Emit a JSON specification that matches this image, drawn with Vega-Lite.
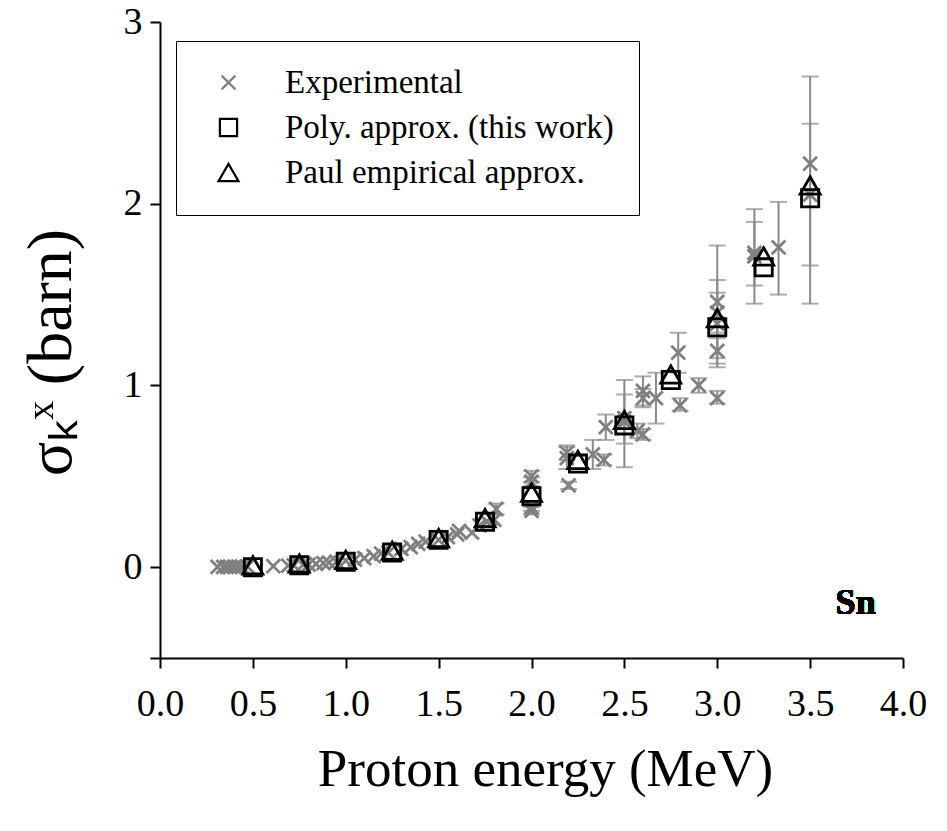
{
  "$schema": "https://vega.github.io/schema/vega-lite/v6.json",
  "width": 743,
  "height": 636,
  "autosize": "none",
  "padding": {"left": 160, "top": 22, "right": 44, "bottom": 173},
  "background": "white",
  "config": {
    "font": "Liberation Serif",
    "view": {"stroke": null},
    "axis": {
      "labelFont": "Liberation Serif",
      "titleFont": "Liberation Serif",
      "labelColor": "black",
      "titleColor": "black",
      "domainColor": "black",
      "tickColor": "black",
      "domainWidth": 2,
      "tickWidth": 2,
      "tickSize": 10,
      "grid": false,
      "labelFlush": false,
      "titleFontWeight": "normal"
    },
    "legend": {
      "labelFont": "Liberation Serif",
      "labelFontSize": 33,
      "labelColor": "black",
      "labelLimit": 600
    }
  },
  "data": {
    "values": [
      {"E": 0.31, "s": 0.001, "series": "Experimental"},
      {"E": 0.34, "s": 0.001, "series": "Experimental"},
      {"E": 0.36, "s": 0.002, "series": "Experimental"},
      {"E": 0.38, "s": 0.002, "series": "Experimental"},
      {"E": 0.40, "s": 0.002, "series": "Experimental"},
      {"E": 0.42, "s": 0.003, "series": "Experimental"},
      {"E": 0.44, "s": 0.003, "series": "Experimental"},
      {"E": 0.47, "s": 0.004, "series": "Experimental"},
      {"E": 0.61, "s": 0.005, "series": "Experimental"},
      {"E": 0.69, "s": 0.008, "series": "Experimental"},
      {"E": 0.72, "s": 0.010, "series": "Experimental"},
      {"E": 0.77, "s": 0.012, "series": "Experimental"},
      {"E": 0.80, "s": 0.014, "series": "Experimental"},
      {"E": 0.84, "s": 0.018, "series": "Experimental"},
      {"E": 0.88, "s": 0.022, "series": "Experimental"},
      {"E": 0.91, "s": 0.025, "series": "Experimental"},
      {"E": 0.95, "s": 0.030, "series": "Experimental"},
      {"E": 1.00, "s": 0.036, "series": "Experimental"},
      {"E": 1.05, "s": 0.042, "series": "Experimental"},
      {"E": 1.10, "s": 0.050, "series": "Experimental"},
      {"E": 1.15, "s": 0.060, "series": "Experimental"},
      {"E": 1.19, "s": 0.075, "series": "Experimental"},
      {"E": 1.23, "s": 0.080, "series": "Experimental"},
      {"E": 1.30, "s": 0.100, "series": "Experimental"},
      {"E": 1.35, "s": 0.110, "series": "Experimental"},
      {"E": 1.39, "s": 0.128, "series": "Experimental"},
      {"E": 1.43, "s": 0.140, "series": "Experimental"},
      {"E": 1.50, "s": 0.150, "series": "Experimental"},
      {"E": 1.55, "s": 0.165, "series": "Experimental"},
      {"E": 1.60, "s": 0.180, "series": "Experimental"},
      {"E": 1.61, "s": 0.200, "series": "Experimental"},
      {"E": 1.68, "s": 0.190, "series": "Experimental"},
      {"E": 1.72, "s": 0.230, "series": "Experimental"},
      {"E": 1.76, "s": 0.250, "series": "Experimental"},
      {"E": 1.78, "s": 0.270, "lo": 0.245, "hi": 0.295, "series": "Experimental"},
      {"E": 1.81, "s": 0.320, "lo": 0.290, "hi": 0.350, "series": "Experimental"},
      {"E": 1.80, "s": 0.260, "series": "Experimental"},
      {"E": 2.00, "s": 0.500, "lo": 0.470, "hi": 0.530, "series": "Experimental"},
      {"E": 2.00, "s": 0.470, "lo": 0.445, "hi": 0.495, "series": "Experimental"},
      {"E": 2.00, "s": 0.310, "lo": 0.290, "hi": 0.330, "series": "Experimental"},
      {"E": 2.00, "s": 0.330, "lo": 0.310, "hi": 0.350, "series": "Experimental"},
      {"E": 2.19, "s": 0.600, "lo": 0.540, "hi": 0.660, "series": "Experimental"},
      {"E": 2.20, "s": 0.450, "lo": 0.430, "hi": 0.470, "series": "Experimental"},
      {"E": 2.19, "s": 0.630, "lo": 0.590, "hi": 0.670, "series": "Experimental"},
      {"E": 2.33, "s": 0.620, "lo": 0.540, "hi": 0.700, "series": "Experimental"},
      {"E": 2.39, "s": 0.590, "lo": 0.560, "hi": 0.620, "series": "Experimental"},
      {"E": 2.40, "s": 0.770, "lo": 0.700, "hi": 0.840, "series": "Experimental"},
      {"E": 2.50, "s": 0.800, "lo": 0.550, "hi": 1.030, "series": "Experimental"},
      {"E": 2.50, "s": 0.820, "lo": 0.680, "hi": 0.950, "series": "Experimental"},
      {"E": 2.57, "s": 0.750, "lo": 0.710, "hi": 0.790, "series": "Experimental"},
      {"E": 2.60, "s": 0.970, "lo": 0.890, "hi": 1.050, "series": "Experimental"},
      {"E": 2.60, "s": 0.930, "lo": 0.880, "hi": 0.980, "series": "Experimental"},
      {"E": 2.60, "s": 0.730, "lo": 0.700, "hi": 0.760, "series": "Experimental"},
      {"E": 2.67, "s": 0.930, "lo": 0.790, "hi": 1.070, "series": "Experimental"},
      {"E": 2.80, "s": 0.890, "lo": 0.860, "hi": 0.930, "series": "Experimental"},
      {"E": 2.79, "s": 1.180, "lo": 1.070, "hi": 1.290, "series": "Experimental"},
      {"E": 2.90, "s": 1.000, "lo": 0.960, "hi": 1.040, "series": "Experimental"},
      {"E": 3.00, "s": 1.460, "lo": 1.150, "hi": 1.770, "series": "Experimental"},
      {"E": 3.00, "s": 1.340, "lo": 1.100, "hi": 1.580, "series": "Experimental"},
      {"E": 3.00, "s": 1.400, "lo": 1.290, "hi": 1.510, "series": "Experimental"},
      {"E": 3.00, "s": 1.190, "lo": 1.120, "hi": 1.260, "series": "Experimental"},
      {"E": 3.00, "s": 0.930, "lo": 0.900, "hi": 0.970, "series": "Experimental"},
      {"E": 3.20, "s": 1.710, "lo": 1.450, "hi": 1.970, "series": "Experimental"},
      {"E": 3.20, "s": 1.730, "lo": 1.550, "hi": 1.900, "series": "Experimental"},
      {"E": 3.33, "s": 1.760, "lo": 1.500, "hi": 2.010, "series": "Experimental"},
      {"E": 3.50, "s": 2.220, "lo": 1.450, "hi": 2.700, "series": "Experimental"},
      {"E": 3.50, "s": 2.050, "lo": 1.660, "hi": 2.440, "series": "Experimental"},
      {"E": 0.50, "s": 0.00, "series": "Poly. approx. (this work)"},
      {"E": 0.75, "s": 0.01, "series": "Poly. approx. (this work)"},
      {"E": 1.00, "s": 0.03, "series": "Poly. approx. (this work)"},
      {"E": 1.25, "s": 0.08, "series": "Poly. approx. (this work)"},
      {"E": 1.50, "s": 0.15, "series": "Poly. approx. (this work)"},
      {"E": 1.75, "s": 0.25, "series": "Poly. approx. (this work)"},
      {"E": 2.00, "s": 0.39, "series": "Poly. approx. (this work)"},
      {"E": 2.25, "s": 0.57, "series": "Poly. approx. (this work)"},
      {"E": 2.50, "s": 0.78, "series": "Poly. approx. (this work)"},
      {"E": 2.75, "s": 1.03, "series": "Poly. approx. (this work)"},
      {"E": 3.00, "s": 1.32, "series": "Poly. approx. (this work)"},
      {"E": 3.25, "s": 1.65, "series": "Poly. approx. (this work)"},
      {"E": 3.50, "s": 2.03, "series": "Poly. approx. (this work)"},
      {"E": 0.50, "s": 0.01, "series": "Paul empirical approx."},
      {"E": 0.75, "s": 0.02, "series": "Paul empirical approx."},
      {"E": 1.00, "s": 0.04, "series": "Paul empirical approx."},
      {"E": 1.25, "s": 0.09, "series": "Paul empirical approx."},
      {"E": 1.50, "s": 0.16, "series": "Paul empirical approx."},
      {"E": 1.75, "s": 0.27, "series": "Paul empirical approx."},
      {"E": 2.00, "s": 0.41, "series": "Paul empirical approx."},
      {"E": 2.25, "s": 0.59, "series": "Paul empirical approx."},
      {"E": 2.50, "s": 0.81, "series": "Paul empirical approx."},
      {"E": 2.75, "s": 1.06, "series": "Paul empirical approx."},
      {"E": 3.00, "s": 1.37, "series": "Paul empirical approx."},
      {"E": 3.25, "s": 1.71, "series": "Paul empirical approx."},
      {"E": 3.50, "s": 2.10, "series": "Paul empirical approx."}
    ]
  },
  "layer": [
    {
      "transform": [{"filter": "isValid(datum.lo)"}],
      "mark": {"type": "errorbar", "color": "#8a8a8a", "thickness": 2, "ticks": {"size": 17, "thickness": 2, "color": "#8a8a8a"}},
      "encoding": {
        "x": {
          "field": "E", "type": "quantitative",
          "scale": {"domain": [0, 4], "nice": false, "zero": false},
          "axis": {
            "values": [0, 0.5, 1, 1.5, 2, 2.5, 3, 3.5, 4],
            "format": ".1f",
            "labelFontSize": 38,
            "labelPadding": 17,
            "title": "Proton energy (MeV)",
            "titleFontSize": 53,
            "titlePadding": 20,
            "titleX": 385
          }
        },
        "y": {
          "field": "lo", "type": "quantitative",
          "scale": {"domain": [-0.5, 3], "nice": false, "zero": false},
          "axis": {
            "values": [-0.5, 0, 1, 2, 3],
            "labelExpr": "datum.value < 0 ? '' : format(datum.value, 'd')",
            "labelFontSize": 38,
            "labelPadding": 8,
            "title": "σₖˣ (barn)",
            "titleFontSize": 64,
            "titlePadding": 40,
            "titleY": 330
          }
        },
        "y2": {"field": "hi"}
      }
    },
    {
      "mark": {"type": "point", "filled": false, "strokeWidth": 2.8, "opacity": 1},
      "encoding": {
        "x": {
          "field": "E", "type": "quantitative",
          "scale": {"domain": [0, 4], "nice": false, "zero": false},
          "axis": {
            "values": [0, 0.5, 1, 1.5, 2, 2.5, 3, 3.5, 4],
            "format": ".1f",
            "labelFontSize": 38,
            "labelPadding": 17,
            "title": "Proton energy (MeV)",
            "titleFontSize": 53,
            "titlePadding": 20,
            "titleX": 385
          }
        },
        "y": {
          "field": "s", "type": "quantitative",
          "scale": {"domain": [-0.5, 3], "nice": false, "zero": false},
          "axis": {
            "values": [-0.5, 0, 1, 2, 3],
            "labelExpr": "datum.value < 0 ? '' : format(datum.value, 'd')",
            "labelFontSize": 38,
            "labelPadding": 8,
            "title": "σₖˣ (barn)",
            "titleFontSize": 64,
            "titlePadding": 40,
            "titleY": 330
          }
        },
        "shape": {
          "field": "series", "type": "nominal",
          "scale": {
            "domain": ["Experimental", "Poly. approx. (this work)", "Paul empirical approx."],
            "range": ["M-1,-1L1,1M-1,1L1,-1", "square", "triangle-up"]
          },
          "legend": {
            "title": null,
            "orient": "none",
            "legendX": 16,
            "legendY": 19,
            "padding": 25,
            "strokeColor": "black",
            "fillColor": "white",
            "symbolSize": 170,
            "symbolStrokeWidth": 2.2,
            "symbolOffset": 11,
            "labelOffset": 40,
            "rowPadding": 11,
            "labelFontSize": 33,
            "labelLimit": 600
          }
        },
        "color": {
          "field": "series", "type": "nominal",
          "scale": {
            "domain": ["Experimental", "Poly. approx. (this work)", "Paul empirical approx."],
            "range": ["#808080", "black", "black"]
          },
          "legend": {
            "title": null,
            "orient": "none",
            "legendX": 16,
            "legendY": 19,
            "padding": 25,
            "strokeColor": "black",
            "fillColor": "white",
            "symbolSize": 170,
            "symbolStrokeWidth": 2.2,
            "symbolOffset": 11,
            "labelOffset": 40,
            "rowPadding": 11,
            "labelFontSize": 33,
            "labelLimit": 600
          }
        },
        "size": {
          "field": "series", "type": "nominal",
          "scale": {
            "domain": ["Experimental", "Poly. approx. (this work)", "Paul empirical approx."],
            "range": [190, 400, 300]
          },
          "legend": null
        }
      }
    },
    {
      "mark": {"type": "text", "text": "Sn", "fontSize": 36, "fontWeight": "bold", "font": "Liberation Serif", "color": "black"},
      "encoding": {
        "x": {"datum": 3.745, "type": "quantitative"},
        "y": {"datum": -0.2, "type": "quantitative"}
      }
    }
  ]
}
